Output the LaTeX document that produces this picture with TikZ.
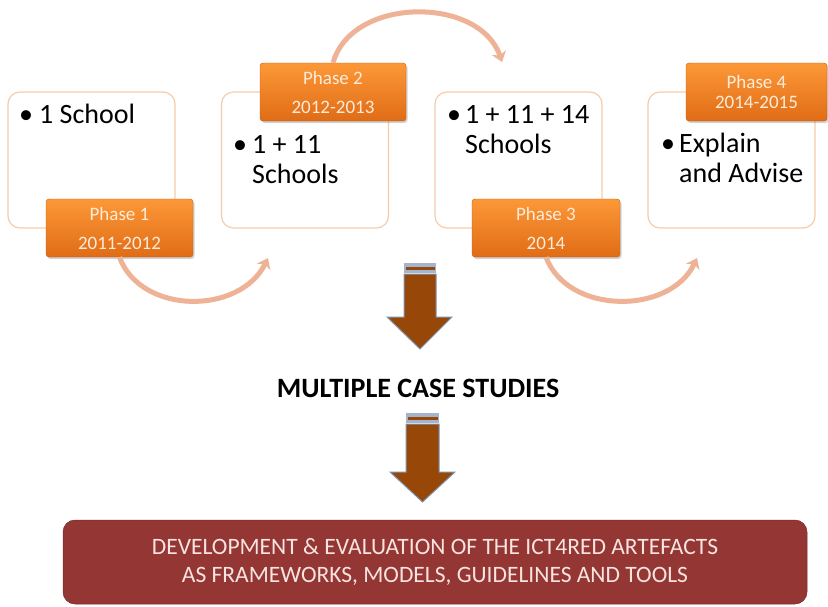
\documentclass[tikz,border=0pt]{standalone}
\usepackage{fontspec}
\setmainfont{Carlito}
\usetikzlibrary{arrows.meta,shadows,calc}
\definecolor{boxline}{RGB}{247,203,170}
\definecolor{orangeT}{RGB}{252,152,55}
\definecolor{orangeB}{RGB}{224,108,22}
\definecolor{phasetxt}{RGB}{253,236,220}
\definecolor{arcc}{RGB}{238,178,150}
\definecolor{brownA}{RGB}{151,72,8}
\definecolor{arrline}{RGB}{125,148,182}
\definecolor{darkred}{RGB}{148,54,52}
\definecolor{lighttxt}{RGB}{247,228,224}
\begin{document}
\begin{tikzpicture}[x=1pt,y=-1pt,
  stagebox/.style={draw=boxline, line width=1.2pt, fill=white, rounded corners=12pt,
    minimum width=167pt, minimum height=136pt, inner sep=0pt},
  phasebox/.style={rounded corners=3pt, top color=orangeT, bottom color=orangeB,
    draw=orangeB!85!black, line width=0.4pt,
    drop shadow={opacity=0.35, shadow xshift=1.5pt, shadow yshift=-2pt},
    text=phasetxt, align=center, inner sep=0pt, minimum height=58pt},
  bodytext/.style={font=\fontsize{28}{30}\selectfont, align=left, inner sep=0pt, anchor=base west},
  bulletmark/.style={font=\fontsize{28}{30}\selectfont, inner sep=0pt, anchor=base west},
  arcarrow/.style={draw=arcc, line width=5pt, -{Stealth[length=10pt,width=15pt]}},
  blockarrow/.style={fill=brownA, draw=arrline, line width=1pt, line join=miter},
]
\useasboundingbox (0,0) rectangle (828,606);

% stage boxes
\node[stagebox] (s1) at (91.5,160) {};
\node[stagebox] (s2) at (305,160) {};
\node[stagebox] (s3) at (518.5,160) {};
\node[stagebox] (s4) at (731.5,160) {};

% texts (base anchor = baseline of last line)
\node[bulletmark] (b1) at (19,123) {•};
\node[bodytext] (t1) at (39,123) {1 School};
\node[bulletmark] (b2) at (233,153) {•};
\node[bodytext] (t2) at (252,183) {1 + 11\\Schools};
\node[bulletmark] (b3) at (447,123) {•};
\node[bodytext] (t3) at (465,153) {1 + 11 + 14\\Schools};
\node[bulletmark] (b4) at (661,152) {•};
\node[bodytext] (t4) at (679,182) {Explain\\and Advise};

% phase boxes
\node[phasebox, minimum width=147pt, font=\fontsize{19}{29}\selectfont] (p1) at (119.5,228) {Phase 1\\2011-2012};
\node[phasebox, minimum width=146pt, font=\fontsize{19}{29}\selectfont] (p2) at (333,92) {Phase 2\\2012-2013};
\node[phasebox, minimum width=148pt, font=\fontsize{19}{29}\selectfont] (p3) at (546,228) {Phase 3\\2014};
\node[phasebox, minimum width=141pt, font=\fontsize{19}{20}\selectfont] (p4) at (756.5,92) {Phase 4\\2014-2015};

% curved arrows
\coordinate (e1) at (268,258);
\coordinate (e2) at (502,62);
\coordinate (e3) at (697,258);
\draw[arcarrow] (p1.south) .. controls (141,315) and (240,315) .. (e1);
\draw[arcarrow] (p2.north) .. controls (352,-4) and (480,-4) .. (e2);
\draw[arcarrow] (p3.south) .. controls (568,315) and (670,315) .. (e3);

% down block arrow 1
\fill[arrline!70!white] (404,263) rectangle (436,273);
\fill[brownA] (405.5,266.5) rectangle (434.5,269.5);
\draw[blockarrow] (404,274) -- (436,274) -- (436,317) -- (452,317) -- (420,349) -- (387,317) -- (404,317) -- cycle;

\node[font=\bfseries\fontsize{28}{30}\selectfont, inner sep=0pt] (mcs) at (418,388) {MULTIPLE CASE STUDIES};

% down block arrow 2
\fill[arrline!70!white] (406,413) rectangle (439,423);
\fill[brownA] (407.5,416.5) rectangle (437.5,419.5);
\draw[blockarrow] (406,424) -- (439,424) -- (439,472) -- (455,472) -- (422.5,502) -- (390,472) -- (406,472) -- cycle;

% bottom box
\node[fill=darkred, draw=darkred!80!black, line width=0.5pt, rounded corners=12pt,
  minimum width=744pt, minimum height=84pt, inner sep=0pt,
  text=lighttxt, align=center, font=\fontsize{23.5}{28}\selectfont] (dev) at (435,562)
  {DEVELOPMENT \& EVALUATION OF THE ICT4RED ARTEFACTS\\AS FRAMEWORKS, MODELS, GUIDELINES AND TOOLS};
\end{tikzpicture}
\end{document}
